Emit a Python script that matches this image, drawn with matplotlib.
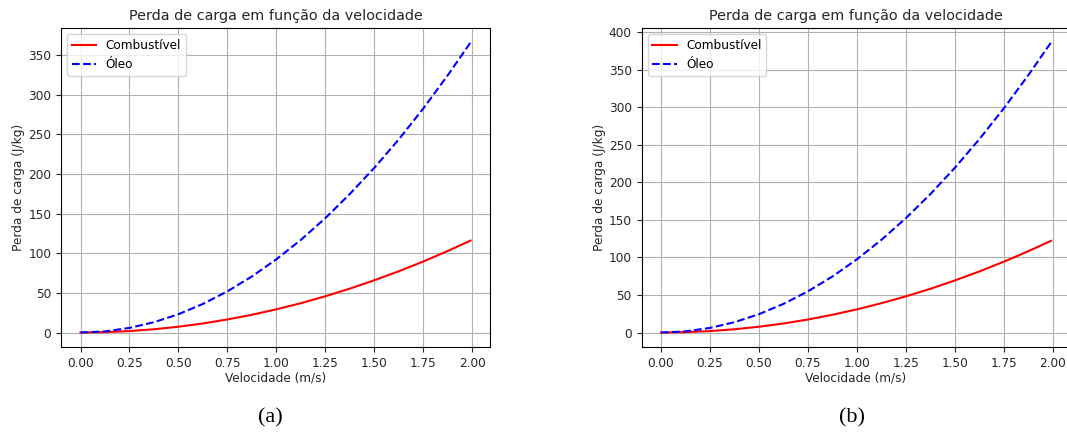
import matplotlib.pyplot as plt

# velocidades (m/s)
vel = [0.0, 0.125, 0.25, 0.375, 0.5, 0.625, 0.75, 0.875, 1.0,
       1.125, 1.25, 1.375, 1.5, 1.625, 1.75, 1.875, 1.99]

# caso (a)
comb_a = [0.0, 0.5, 1.8, 4.1, 7.3, 11.4, 16.5, 22.4, 29.3,
          37.0, 45.8, 55.4, 66.0, 77.4, 89.7, 103.0, 116.0]
oleo_a = [0.0, 1.4, 5.8, 13.0, 23.1, 36.1, 52.0, 70.8, 92.5,
          117.0, 144.5, 175.0, 208.0, 244.0, 283.0, 325.0, 366.0]

# caso (b)
comb_b = [0.0, 0.5, 1.9, 4.3, 7.7, 12.0, 17.3, 23.6, 30.8,
          39.0, 48.1, 58.2, 69.3, 81.3, 94.3, 108.3, 122.0]
oleo_b = [0.0, 1.5, 6.1, 13.7, 24.4, 38.1, 54.8, 74.6, 97.5,
          123.4, 152.3, 184.3, 219.4, 257.5, 298.6, 342.8, 386.0]

xticks = [0.0, 0.25, 0.5, 0.75, 1.0, 1.25, 1.5, 1.75, 2.0]

plt.rcParams['font.family'] = 'DejaVu Sans'
txt = '#262626'

fig = plt.figure(figsize=(10.67, 4.32), dpi=100)
ax1 = fig.add_axes([61 / 1067, 1 - 347 / 432, 429 / 1067, 319 / 432])
ax2 = fig.add_axes([641.5 / 1067, 1 - 347 / 432, 429 / 1067, 319 / 432])

for ax, comb, oleo in [(ax1, comb_a, oleo_a), (ax2, comb_b, oleo_b)]:
    ax.plot(vel, comb, color='red', lw=1.5, label='Combustível')
    ax.plot(vel, oleo, color='blue', ls='--', lw=1.5, label='Óleo')
    ax.set_xticks(xticks)
    ax.grid(True, color='#b0b0b0', lw=0.8)
    ax.set_title('Perda de carga em função da velocidade', fontsize=10.4, color=txt)
    ax.set_xlabel('Velocidade (m/s)', fontsize=8.7, color=txt, labelpad=1.5)
    ax.set_ylabel('Perda de carga (J/kg)', fontsize=8.7, color=txt, labelpad=2)
    ax.tick_params(labelsize=8.7, colors=txt, labelcolor=txt)
    ax.legend(loc='upper left', fontsize=8.7)

fig.text(270 / 1067, 1 - 418 / 432, '(a)', family='Liberation Serif', fontsize=16,
         ha='center', va='center')
fig.text(852 / 1067, 1 - 418 / 432, '(b)', family='Liberation Serif', fontsize=16,
         ha='center', va='center')

fig.savefig('out.png', dpi=100)
